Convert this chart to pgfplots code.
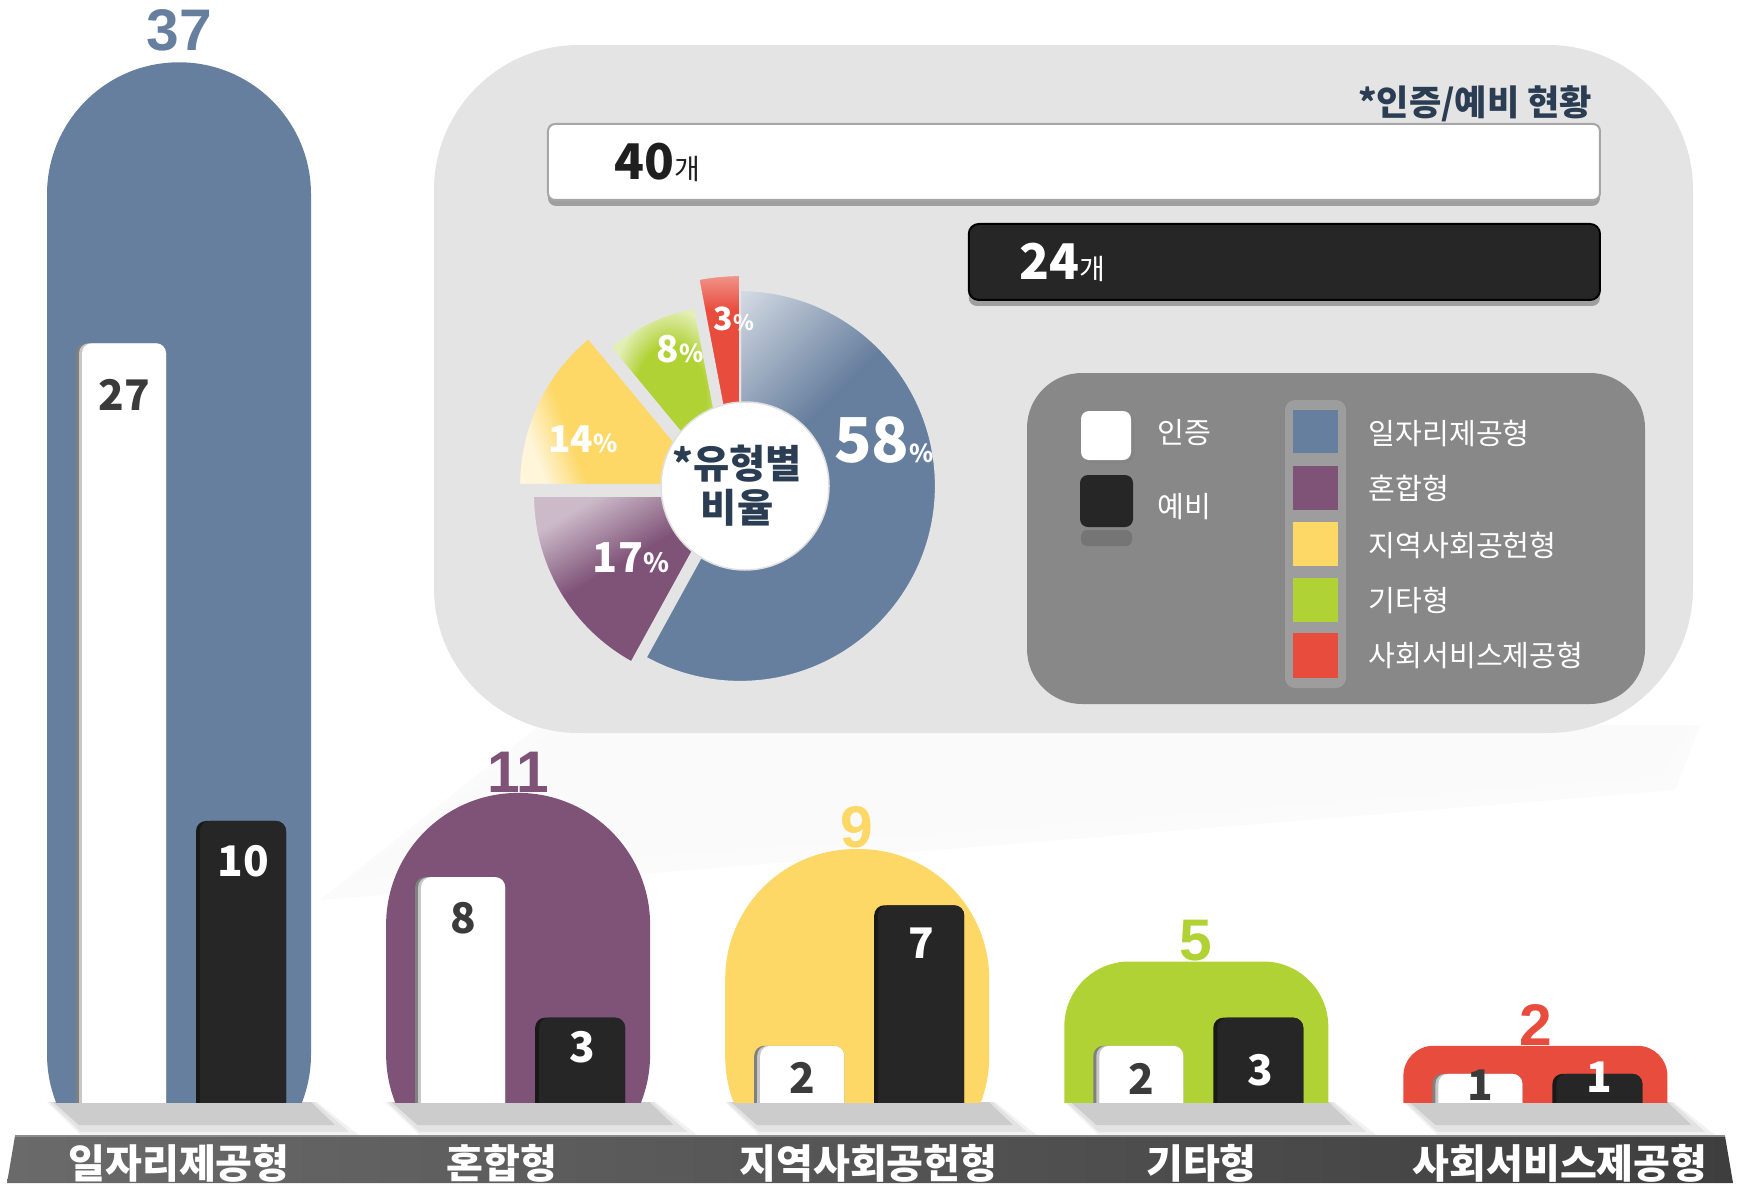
\documentclass[border=0pt]{standalone}
\usepackage{fontspec}
\setmainfont{Noto Sans CJK KR}
\newfontfamily\numfont{Liberation Sans}
\usepackage{pgfplots}
\pgfplotsset{compat=1.18}
\usepackage{pgfplotstable}
\usetikzlibrary{shadows}

\definecolor{cjob}{HTML}{677F9E}
\definecolor{cmix}{HTML}{7F5378}
\definecolor{creg}{HTML}{FDD867}
\definecolor{cetc}{HTML}{B1D235}
\definecolor{csoc}{HTML}{E84C3D}
\definecolor{dark}{HTML}{262626}
\definecolor{panel}{HTML}{E4E4E4}
\definecolor{legbg}{HTML}{888888}
\definecolor{navytxt}{HTML}{2B3D53}
\definecolor{numtxt}{HTML}{3B3B3B}
\definecolor{bandl}{HTML}{6A6A6A}
\definecolor{bandr}{HTML}{3E3E3E}

% slice shadings
\pgfdeclarehorizontalshading{shb}{100bp}{color(0bp)=(cjob!30!white); color(25bp)=(cjob!30!white); color(45bp)=(cjob); color(100bp)=(cjob)}
\pgfdeclareverticalshading{shp}{100bp}{color(0bp)=(cmix); color(55bp)=(cmix); color(75bp)=(cmix!40!white); color(100bp)=(cmix!40!white)}
\pgfdeclarehorizontalshading{shy}{100bp}{color(0bp)=(creg!20!white); color(25bp)=(creg!25!white); color(36bp)=(creg); color(100bp)=(creg)}
\pgfdeclareradialshading{shg}{\pgfpoint{0bp}{0bp}}{color(0bp)=(cetc); color(15bp)=(cetc); color(25bp)=(cetc!35!white); color(50bp)=(cetc!35!white)}
\pgfdeclareverticalshading{shr}{100bp}{color(0bp)=(csoc!45!white); color(27bp)=(csoc!55!white); color(38bp)=(csoc); color(67bp)=(csoc); color(75bp)=(csoc!60!white); color(100bp)=(csoc!60!white)}

% per type: total, 인증, 예비, label offsets inside the bars (cm)
\pgfplotstableread{
idx total cert prep cy py
0 37 27 10 -0.52 -0.40
1 11 8 3 -0.41 -0.29
2 9 2 7 -0.32 -0.38
3 5 2 3 -0.33 -0.52
4 2 1 1 -0.11 -0.03
}\typetab

\tikzset{
  kr/.style={font=\fontsize{#1}{#1}\selectfont},
  kb/.style={font=\bfseries\fontsize{#1}{#1}\selectfont},
  slb/.style={shading=shb, shading angle=-45},
  slp/.style={shading=shp, shading angle=30},
  sly/.style={shading=shy, shading angle=20},
  slg/.style={shading=shg},
  slr/.style={shading=shr},
}
\pgfplotsset{
  frame/.style={at={(0cm,0cm)}, anchor=south west, scale only axis, width=17.46cm, height=11.83cm,
    xmin=0, xmax=1746, ymin=0, ymax=1183, y dir=reverse, hide axis, clip=false},
  cats/.style={xmin=-0.5279, xmax=4.6211},
  arch/.style n args={3}{fill=#1, draw=none, bar width=2.64cm, bar shift=0pt, rounded corners=#2,
    restrict expr to domain={\coordindex}{#3:#3}, nodes near coords, point meta=\thisrow{total},
    every node near coord/.append style={anchor=south, inner sep=0pt, text=#1,
      font=\numfont\bfseries\fontsize{16.7}{16.7}\selectfont}},
  hlab/.style 2 args={nodes near coords={\bfseries\fontsize{14}{14}\selectfont\pgfmathprintnumber{\pgfplotspointmeta}\mdseries\fontsize{8}{8}\selectfont 개},
    every node near coord/.append style={anchor=west, xshift=#1, text=#2, inner sep=0pt}},
}

\begin{document}
\begin{tikzpicture}
% background, panel, band, legend
\begin{axis}[frame]
\fill[white] (axis cs:0,0) rectangle (axis cs:1746,1183);
\fill[black!1.5] (axis cs:540,725) -- (axis cs:1700,725) -- (axis cs:1675,790) -- (axis cs:320,900) -- cycle;
\fill[black!2] (axis cs:560,725) -- (axis cs:1690,725) -- (axis cs:1660,775) -- (axis cs:350,880) -- cycle;
\fill[panel, rounded corners=1.45cm] (axis cs:434,45) rectangle (axis cs:1693,733);
\pgfplotsinvokeforeach{179,517.5,857,1196.5,1535.5}{
  \fill[black!5] (axis cs:#1-132,1102) -- (axis cs:#1+138,1102) -- (axis cs:#1+182,1137) -- (axis cs:#1-96,1137) -- cycle;
  \fill[black!11] (axis cs:#1-130,1102) -- (axis cs:#1+136,1102) -- (axis cs:#1+170,1132) -- (axis cs:#1-98,1132) -- cycle;
  \fill[black!20] (axis cs:#1-126,1102) -- (axis cs:#1+132,1102) -- (axis cs:#1+156,1125) -- (axis cs:#1-100,1125) -- cycle;
}
\shade[left color=bandl, right color=bandr] (axis cs:15,1136) -- (axis cs:1725,1136) -- (axis cs:1733,1183) -- (axis cs:7,1183) -- cycle;
\draw[black!45, line width=0.02cm] (axis cs:15,1136) -- (axis cs:1725,1136);
\node[anchor=east, text=navytxt, kb=10, inner sep=0pt] at (axis cs:1593,104) {*인증/예비 현황};
\fill[legbg, rounded corners=0.55cm] (axis cs:1027,373) rectangle (axis cs:1645,704);
\fill[white, opacity=0.18, rounded corners=0.1cm] (axis cs:1285,400) rectangle (axis cs:1346,688);
\fill[white, rounded corners=0.08cm, drop shadow={shadow xshift=0.03cm, shadow yshift=-0.03cm, opacity=0.35}] (axis cs:1081,411) rectangle (axis cs:1131,460);
\fill[black!70, opacity=0.3, rounded corners=0.06cm] (axis cs:1081,530) rectangle (axis cs:1132,546);
\fill[dark, rounded corners=0.08cm] (axis cs:1080,475) rectangle (axis cs:1133,527);
\node[anchor=west, text=white, kr=8.3, inner sep=0pt] at (axis cs:1157,433) {인증};
\node[anchor=west, text=white, kr=8.3, inner sep=0pt] at (axis cs:1157,507) {예비};
\fill[cjob] (axis cs:1293,410) rectangle (axis cs:1338,453);
\fill[cmix] (axis cs:1293,466) rectangle (axis cs:1338,510);
\fill[creg] (axis cs:1293,522) rectangle (axis cs:1338,566);
\fill[cetc] (axis cs:1293,578) rectangle (axis cs:1338,622);
\fill[csoc] (axis cs:1293,633) rectangle (axis cs:1338,678);
\node[anchor=west, text=white, kr=8.3, inner sep=0pt] at (axis cs:1368,433) {일자리제공형};
\node[anchor=west, text=white, kr=8.3, inner sep=0pt] at (axis cs:1368,488) {혼합형};
\node[anchor=west, text=white, kr=8.3, inner sep=0pt] at (axis cs:1368,545) {지역사회공헌형};
\node[anchor=west, text=white, kr=8.3, inner sep=0pt] at (axis cs:1368,600) {기타형};
\node[anchor=west, text=white, kr=8.3, inner sep=0pt] at (axis cs:1368,655) {사회서비스제공형};
\coordinate (pc) at (axis cs:740,486);
\end{axis}

% donut of type shares (percent / style / radius px / offset cm)
\xdef\cum{0}
\foreach \p/\sty/\r/\dx/\dy in {58/slb/196/0/0, 17/slp/190/-0.17/-0.10, 14/sly/191/-0.30/0.01, 8/slg/188/-0.10/-0.06, 3/slr/222/0/-0.11}{
  \pgfmathsetmacro{\s}{90-3.6*\cum}
  \pgfmathsetmacro{\e}{\s-3.6*\p}
  \shadedraw[\sty, draw=panel, line width=0.02cm, shift={(pc)}, xshift=\dx cm, yshift=\dy cm]
    (0,0) -- ({\s}:{\r*0.01cm}) arc[start angle=\s, end angle=\e, radius={\r*0.01cm}] -- cycle;
  \pgfmathsetmacro{\nc}{\cum+\p}\xdef\cum{\nc}
}

\begin{axis}[frame]
\fill[white, draw=black!12, line width=0.015cm] (axis cs:745,486) circle[radius=0.84cm];
\node[align=center, text=navytxt, font=\bfseries\fontsize{11.2}{12.6}\selectfont] at (axis cs:737,486) {*유형별\\비율};
\node[text=white, inner sep=0pt] at (axis cs:884,440) {{\bfseries\fontsize{17.6}{17.6}\selectfont 58}{\bfseries\fontsize{7}{7}\selectfont\%}};
\node[text=white, inner sep=0pt] at (axis cs:631,558) {{\bfseries\fontsize{11.7}{11.7}\selectfont 17}{\bfseries\fontsize{7.5}{7.5}\selectfont\%}};
\node[text=white, inner sep=0pt] at (axis cs:583,439) {{\bfseries\fontsize{10.5}{10.5}\selectfont 14}{\bfseries\fontsize{7}{7}\selectfont\%}};
\node[text=white, inner sep=0pt] at (axis cs:680,349) {{\bfseries\fontsize{10.5}{10.5}\selectfont 8}{\bfseries\fontsize{7}{7}\selectfont\%}};
\node[text=white, inner sep=0pt] at (axis cs:734,319) {{\bfseries\fontsize{9.1}{9.1}\selectfont 3}{\bfseries\fontsize{6}{6}\selectfont\%}};
\end{axis}

% category names on the band
\begin{axis}[at={(0cm,0.81cm)}, anchor=south west, scale only axis, width=17.46cm, height=11.02cm,
  cats, ymin=0, ymax=1, axis x line*=bottom, axis y line=none, x axis line style={draw=none},
  xtick={0,0.9525,2.0333,3.0153,4.0726},
  xticklabels={일자리제공형,혼합형,지역사회공헌형,기타형,사회서비스제공형},
  major tick length=0pt,
  xticklabel style={anchor=center, inner sep=0pt, yshift=-0.61cm, text=white, font=\bfseries\fontsize{11.4}{11.4}\selectfont}]
\end{axis}

% arches by type with 인증 / 예비 bars (base clipped at the ground line)
\begin{scope}
\clip (0cm,0.81cm) rectangle (17.46cm,11.83cm);
\begin{axis}[at={(0cm,-0.033cm)}, anchor=south west, scale only axis,
  width=17.46cm, height=11.863cm, cats, ymin=0, ymax=42.217, hide axis, clip=false,
  ybar, y filter/.expression={y+3}, /pgf/number format/assume math mode=true]
\addplot[arch={cjob}{1.32cm}{0}, every node near coord/.append style={yshift=0.1cm}] table[x=idx,y=total]{\typetab};
\addplot[arch={cmix}{1.32cm}{1}] table[x=idx,y=total]{\typetab};
\addplot[arch={creg}{1.3cm}{2}] table[x=idx,y=total]{\typetab};
\addplot[arch={cetc}{0.65cm}{3}] table[x=idx,y=total]{\typetab};
\addplot[arch={csoc}{0.3cm}{4}] table[x=idx,y=total]{\typetab};
\addplot[fill=black!50, draw=none, bar width=0.9cm, bar shift=-0.58cm, rounded corners=0.1cm] table[x=idx,y=cert]{\typetab};
\addplot[fill=black!22, draw=none, bar width=0.87cm, bar shift=-0.565cm, rounded corners=0.1cm] table[x=idx,y=cert]{\typetab};
\addplot[fill=white, draw=none, bar width=0.84cm, bar shift=-0.55cm, rounded corners=0.1cm,
  nodes near coords, point meta=\thisrow{cert}, visualization depends on={\thisrow{cy}\as\ny},
  every node near coord/.append style={anchor=center, yshift=\ny cm, text=numtxt, font=\bfseries\fontsize{12}{12}\selectfont}]
  table[x=idx,y=cert]{\typetab};
\addplot[fill=black!90, draw=none, bar width=0.9cm, bar shift=0.62cm, rounded corners=0.1cm] table[x=idx,y=prep]{\typetab};
\addplot[fill=dark, draw=none, bar width=0.86cm, bar shift=0.64cm, rounded corners=0.1cm,
  nodes near coords, point meta=\thisrow{prep}, visualization depends on={\thisrow{py}\as\ny},
  every node near coord/.append style={anchor=center, yshift=\ny cm, text=white, font=\bfseries\fontsize{12}{12}\selectfont}]
  table[x=idx,y=prep]{\typetab};
\end{axis}
\end{scope}

% 인증 / 예비 totals
\begin{axis}[at={(5cm,8.71cm)}, anchor=south west, scale only axis, width=11cm, height=2cm,
  xmin=0, xmax=41.825, x dir=reverse, ymin=-0.5, ymax=1.5, y dir=reverse, hide axis, clip=false,
  xbar, bar width=0.76cm, point meta=x, /pgf/number format/assume math mode=true]
\addplot[bar shift=-0.06cm, bar width=0.76cm, fill=black, opacity=0.3, draw=none, rounded corners=0.08cm] coordinates {(40,0)};
\addplot[bar shift=0pt, fill=white, draw=black!35, line width=0.02cm, rounded corners=0.07cm, hlab={0.66cm}{black!88}] coordinates {(40,0)};
\addplot[bar shift=-0.06cm, bar width=0.76cm, fill=black, opacity=0.3, draw=none, rounded corners=0.08cm] coordinates {(24,1)};
\addplot[bar shift=0pt, fill=dark, draw=black, line width=0.02cm, rounded corners=0.1cm, hlab={0.5cm}{white}] coordinates {(24,1)};
\end{axis}
\pgfresetboundingbox
\useasboundingbox (0,0) rectangle (17.46cm,11.83cm);
\end{tikzpicture}
\end{document}
